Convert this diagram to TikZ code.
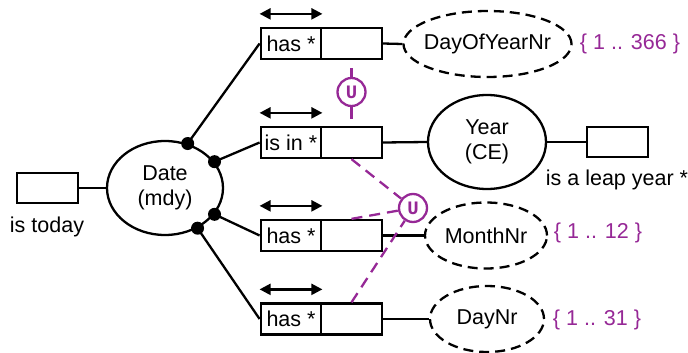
\documentclass[tikz,border=0pt]{standalone}
\usepackage{fontspec}
\setmainfont{Liberation Sans}
\newfontfamily\ormmono{Liberation Mono}
\usetikzlibrary{shapes.geometric,arrows.meta}
\definecolor{ormpurple}{RGB}{150,40,150}
\begin{document}
\begin{tikzpicture}[x=1pt,y=-1pt,
  font=\fontsize{21.5}{25}\selectfont,
  line width=2.3pt,
  entity/.style={ellipse,draw,inner sep=0pt,minimum width=#1,minimum height=94pt},
  valtype/.style={ellipse,draw,dash pattern=on 10pt off 6pt,inner sep=0pt,minimum width=#1,minimum height=66pt},
  rolecell/.style={rectangle,draw,inner sep=0pt,minimum width=60.5pt,minimum height=31pt},
  unarybox/.style={rectangle,draw,inner sep=0pt,minimum width=61pt,minimum height=30pt},
  joint/.style={circle,fill,inner sep=0pt,minimum size=13pt},
  uniq/.style={{Triangle[length=11pt,width=11pt]}-{Triangle[length=11pt,width=11pt]}},
  ucircle/.style={circle,draw=ormpurple,text=ormpurple,inner sep=0pt,minimum size=28pt,
    font=\ormmono\bfseries\fontsize{19}{19}\selectfont},
  ulink/.style={draw=ormpurple},
  udash/.style={draw=ormpurple,dash pattern=on 11pt off 7pt},
  valrange/.style={text=ormpurple}]
\useasboundingbox (0,0) rectangle (688,353);

% entity types
\node[entity=116pt] (date) at (165,188)
  {\makebox[0pt]{\begin{tabular}{@{}c@{}}Date\\(mdy)\end{tabular}}};
\node[entity=118pt] (year) at (487,142)
  {\makebox[0pt]{\begin{tabular}{@{}c@{}}Year\\(CE)\end{tabular}}};

% value types
\node[valtype=168pt] (doy) at (487.5,44) {\makebox[0pt]{DayOfYearNr}};
\node[valtype=122pt] (month) at (486,235.5) {\makebox[0pt]{MonthNr}};
\node[valtype=114pt] (daynr) at (487,319) {\makebox[0pt]{DayNr}};

% unary fact types
\node[unarybox] (today) at (47.5,188) {};
\node (todaytxt) at (47,227) {is today};
\node[unarybox] (leap) at (617.5,142) {};
\node (leaptxt) at (617,180) {is a leap year *};

% value ranges
\node[valrange] (rdoy) at (630,44) {\{ 1 .. 366 \}};
\node[valrange] (rmonth) at (598,233) {\{ 1 .. 12 \}};
\node[valrange] (rday) at (597,320) {\{ 1 .. 31 \}};

% binary fact types: two role cells each
\node[rolecell] (r1a) at (291,43.5) {has *};
\node[rolecell] (r1b) at (351.5,43.5) {};
\node[rolecell] (r2a) at (291,142.5) {is in *};
\node[rolecell] (r2b) at (351.5,142.5) {};
\node[rolecell] (r3a) at (291,235.5) {has *};
\node[rolecell] (r3b) at (351.5,235.5) {};
\node[rolecell] (r4a) at (291,319) {has *};
\node[rolecell] (r4b) at (351.5,319) {};

% uniqueness bars
\foreach \r in {r1a,r2a,r3a,r4a}
  \draw[uniq] ([yshift=13pt]\r.north west) -- ([yshift=13pt]\r.north east);

% role connectors
\draw (today.east) -- (date.west);
\node[joint] (j1) at (date.63) {};
\node[joint] (j2) at (date.28) {};
\node[joint] (j3) at (date.-28) {};
\node[joint] (j4) at (date.-51) {};
\draw (j1.center) -- (r1a.west);
\draw (j2.center) -- (r2a.west);
\draw (j3.center) -- (r3a.west);
\draw (j4.center) -- (r4a.west);
\draw (r1b.east) -- (doy.west);
\draw (r2b.east) -- (year.west);
\draw (year.east) -- (leap.west);
\draw (r3b.east) -- (month.west);
\draw (r4b.east) -- (daynr.west);

% external uniqueness constraints
\node[ucircle] (u1) at (351.5,92) {U};
\draw[ulink] ([yshift=-8pt]r1b.south) -- (u1.north);
\draw[ulink] (u1.south) -- ([yshift=7pt]r2b.north);
\node[ucircle] (u2) at (413,208) {U};
\draw[udash] (r2b.south) -- (u2);
\draw[udash] (r3b.north) -- (u2);
\draw[udash] (r4b.north) -- (u2);
\end{tikzpicture}
\end{document}
